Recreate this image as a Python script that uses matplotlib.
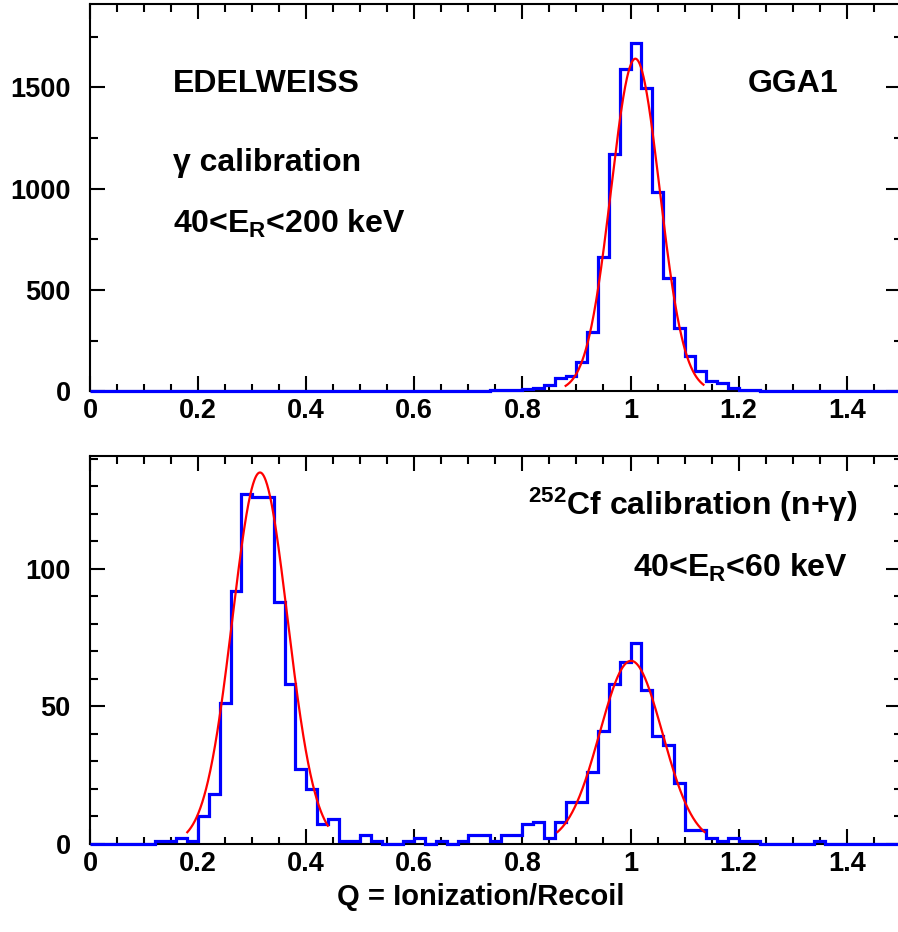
import numpy as np
import matplotlib
matplotlib.use('Agg')
import matplotlib.pyplot as plt
from matplotlib.ticker import MultipleLocator, FuncFormatter

plt.rcParams['font.family'] = ['Liberation Sans', 'DejaVu Sans']
plt.rcParams['font.weight'] = 'bold'
plt.rcParams['mathtext.fontset'] = 'custom'
plt.rcParams['mathtext.rm'] = 'Liberation Sans:bold'
plt.rcParams['mathtext.it'] = 'Liberation Sans:bold'
plt.rcParams['mathtext.bf'] = 'Liberation Sans:bold'
plt.rcParams['mathtext.default'] = 'rm'

# ---------------- data ----------------
bin_width = 0.02
q_max = 1.5

# gamma calibration histogram (bins of 0.02 starting at gamma_first_bin)
gamma_first_bin = 0.70
gamma_counts = [1, 3, 4, 6, 8, 12, 15, 31, 64, 76,
                143, 295, 665, 1172, 1592, 1719, 1497, 983, 558, 314,
                174, 100, 52, 40, 15, 6, 4, 3, 1, 1]

# 252Cf calibration histogram (bins of 0.02 starting at cf_first_bin)
cf_first_bin = 0.12
cf_counts = [1, 1, 2, 1, 10, 18, 51, 92, 127, 126,
             126, 88, 58, 27, 20, 7, 9, 1, 1, 3,
             1, 0, 0, 1, 2, 0, 1, 0, 1, 3,
             3, 1, 3, 3, 7, 8, 2, 8, 15, 15,
             26, 41, 58, 66, 73, 56, 39, 36, 22, 5,
             5, 2, 1, 2, 1, 1, 0, 0, 0, 0,
             0, 1]

# Gaussian fits: amplitude, mean, sigma, range
gamma_fit_amp, gamma_fit_mean, gamma_fit_sigma = 1642, 1.009, 0.045
gamma_fit_range = (0.88, 1.135)
cf_n_fit_amp, cf_n_fit_mean, cf_n_fit_sigma = 135, 0.3145, 0.051
cf_n_fit_range = (0.18, 0.44)
cf_g_fit_amp, cf_g_fit_mean, cf_g_fit_sigma = 66.5, 1.001, 0.058
cf_g_fit_range = (0.865, 1.137)

top_ylim = 1912
bottom_ylim = 141.1


def full_hist(first, counts):
    n = int(round(q_max / bin_width))
    edges = np.linspace(0, q_max, n + 1)
    vals = np.zeros(n)
    i0 = int(round(first / bin_width))
    vals[i0:i0 + len(counts)] = counts
    return edges, vals


def gauss(x, a, m, s):
    return a * np.exp(-0.5 * ((x - m) / s) ** 2)


W, H = 898, 932
fig = plt.figure(figsize=(W / 100, H / 100), dpi=100)

ax1 = fig.add_axes([90 / W, 1 - 391.3 / H, 810.75 / W, 387.3 / H])
ax2 = fig.add_axes([90 / W, 1 - 843.7 / H, 810.75 / W, 388 / H])

blue = '#0000ff'
red = '#ff0000'

for ax, (first, counts), fits, ylim, ymaj, ymin in [
    (ax1, (gamma_first_bin, gamma_counts),
     [(gamma_fit_amp, gamma_fit_mean, gamma_fit_sigma, gamma_fit_range)],
     top_ylim, 500, 250),
    (ax2, (cf_first_bin, cf_counts),
     [(cf_n_fit_amp, cf_n_fit_mean, cf_n_fit_sigma, cf_n_fit_range),
      (cf_g_fit_amp, cf_g_fit_mean, cf_g_fit_sigma, cf_g_fit_range)],
     bottom_ylim, 50, 10),
]:
    edges, vals = full_hist(first, counts)
    ax.stairs(vals, edges, color=blue, linewidth=2.3, baseline=0,
              zorder=3, clip_on=False)
    for a, m, s, (lo, hi) in fits:
        x = np.linspace(lo, hi, 300)
        ax.plot(x, gauss(x, a, m, s), color=red, linewidth=1.6, zorder=4)
    ax.set_xlim(0, q_max)
    ax.set_ylim(0, ylim)
    ax.xaxis.set_major_locator(MultipleLocator(0.2))
    ax.xaxis.set_minor_locator(MultipleLocator(0.05))
    ax.yaxis.set_major_locator(MultipleLocator(ymaj))
    ax.yaxis.set_minor_locator(MultipleLocator(ymin))
    ax.xaxis.set_major_formatter(FuncFormatter(lambda v, p: f"{v:g}" if v < 1.45 else ""))
    ax.tick_params(which='both', direction='in', top=True, right=True,
                   width=1.5, labelsize=19.5)
    ax.tick_params(which='major', length=10.8)
    ax.tick_params(which='minor', length=5.4)
    ax.tick_params(axis='y', pad=14)
    ax.tick_params(axis='x', pad=5)
    for sp in ax.spines.values():
        sp.set_linewidth(1.5)

fs = 23
ax1.text(0.102, 0.7736, 'EDELWEISS', transform=ax1.transAxes, fontsize=fs,
         fontweight='bold', ha='left', va='baseline')
ax1.text(0.9226, 0.7736, 'GGA1', transform=ax1.transAxes, fontsize=fs,
         fontweight='bold', ha='right', va='baseline')
ax1.text(0.102, 0.5696, 'γ calibration', transform=ax1.transAxes, fontsize=fs,
         fontweight='bold', ha='left', va='baseline')
ax1.text(0.102, 0.4095, r'40<E$_{R}$<200 keV', transform=ax1.transAxes,
         fontsize=fs, fontweight='bold', ha='left', va='baseline')

ax2.text(0.947, 0.847, r'$^{252}$Cf calibration (n+γ)', transform=ax2.transAxes,
         fontsize=fs, fontweight='bold', ha='right', va='baseline')
ax2.text(0.935, 0.688, r'40<E$_{R}$<60 keV', transform=ax2.transAxes,
         fontsize=fs, fontweight='bold', ha='right', va='baseline')

ax2.set_xlabel('Q = Ionization/Recoil', fontsize=21, fontweight='bold')
ax2.xaxis.set_label_coords(0.4825, (843.7 - 905) / 388, transform=ax2.transAxes)
ax2.xaxis.label.set_va('baseline')

fig.savefig('out.png', dpi=100)
